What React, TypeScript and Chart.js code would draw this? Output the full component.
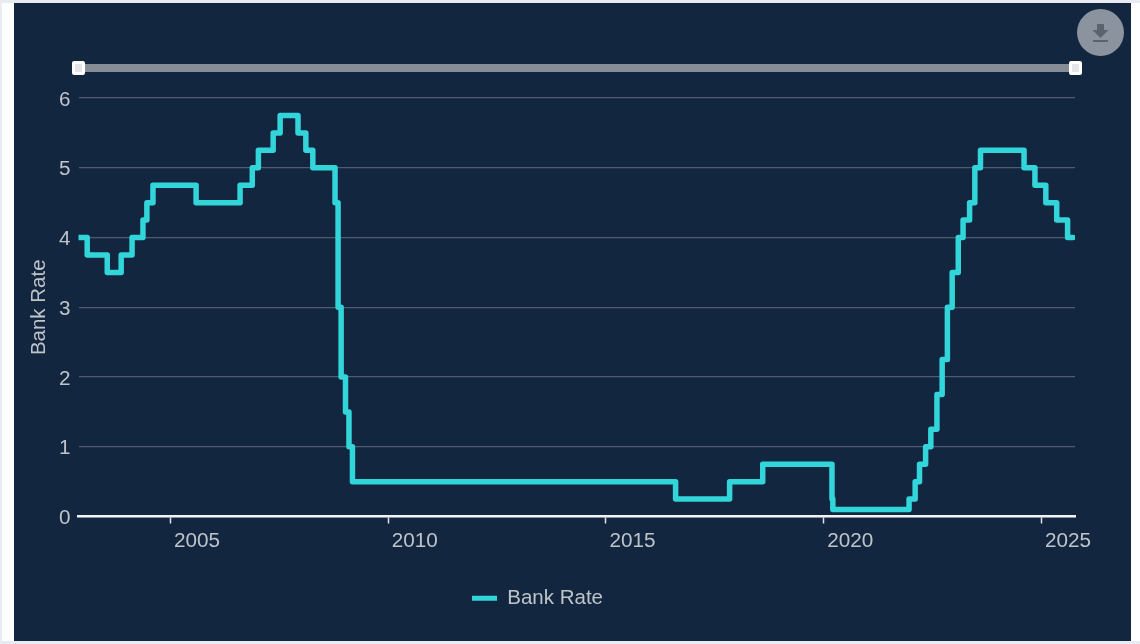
import React, { useEffect, useRef } from "react";
import { Chart, registerables } from "chart.js";

Chart.register(...registerables);

const changeYears = [2002.89, 2003.09, 2003.55, 2003.87, 2004.12, 2004.37, 2004.46, 2004.6, 2005.59, 2006.6, 2006.88, 2007.02, 2007.36, 2007.52, 2007.93, 2008.11, 2008.27, 2008.78, 2008.85, 2008.92, 2009.02, 2009.1, 2009.18, 2016.6, 2017.84, 2018.6, 2020.19, 2020.21, 2021.96, 2022.1, 2022.2, 2022.34, 2022.46, 2022.6, 2022.72, 2022.84, 2022.95, 2023.09, 2023.2, 2023.35, 2023.47, 2023.6, 2024.6, 2024.85, 2025.1, 2025.35, 2025.6, 2025.73];
const bankRate = [4, 3.75, 3.5, 3.75, 4, 4.25, 4.5, 4.75, 4.5, 4.75, 5, 5.25, 5.5, 5.75, 5.5, 5.25, 5, 4.5, 3, 2, 1.5, 1, 0.5, 0.25, 0.5, 0.75, 0.25, 0.1, 0.25, 0.5, 0.75, 1, 1.25, 1.75, 2.25, 3, 3.5, 4, 4.25, 4.5, 5, 5.25, 5, 4.75, 4.5, 4.25, 4, 4];
const seriesName = "Bank Rate";
const axisMinYear = 2002.89;
const axisMaxYear = 2025.77;

const FONT = '"Liberation Sans", Arial, sans-serif';
const TEXT = "#bfc4ca";
const TEAL = "#32d5da";

export default function App() {
  const ref = useRef<HTMLCanvasElement>(null);
  useEffect(() => {
    const chart = new Chart(ref.current!, {
      type: "line",
      data: {
        datasets: [
          {
            label: seriesName,
            data: changeYears.map((x, i) => ({ x, y: bankRate[i] })),
            stepped: true,
            borderColor: TEAL,
            backgroundColor: TEAL,
            borderWidth: 5.5,
            borderJoinStyle: "round",
            borderCapStyle: "round",
            pointRadius: 0,
          },
        ],
      },
      options: {
        animation: false,
        responsive: false,
        layout: { padding: { left: 0, right: 65, top: 98, bottom: 25.5 } },
        font: { family: FONT },
        scales: {
          x: {
            type: "linear",
            min: axisMinYear,
            max: axisMaxYear,
            afterFit: (s: any) => { s.height = 61.5; },
            border: { display: true, color: "#f2f3f5", width: 2.5 },
            grid: { drawOnChartArea: false, drawTicks: true, tickLength: 7, tickColor: "#dfe2e6", tickWidth: 1.5 },
            ticks: {
              stepSize: 5,
              includeBounds: false,
              align: "start",
              labelOffset: 3.5,
              maxRotation: 0,
              autoSkip: false,
              padding: 5,
              color: TEXT,
              font: { family: FONT, size: 20.7 },
              callback: (v: any) => String(v),
            },
          },
          y: {
            min: 0,
            max: 6,
            afterFit: (s: any) => { s.width = 78.5; },
            border: { display: false },
            grid: { color: "rgba(255,255,255,0.25)", lineWidth: 1.2, drawTicks: false },
            ticks: { stepSize: 1, padding: 8, labelOffset: 2, color: TEXT, font: { family: FONT, size: 20.7 } },
            title: {
              display: true,
              text: seriesName,
              color: TEXT,
              font: { family: FONT, size: 20.5 },
              padding: { top: 27.5, bottom: 0 },
            },
          },
        },
        plugins: {
          tooltip: { enabled: false },
          legend: {
            position: "bottom",
            labels: {
              color: TEXT,
              font: { family: FONT, size: 20.5 },
              boxWidth: 25,
              boxHeight: 5,
              padding: 10,
              generateLabels: (c: any) => {
                const items = Chart.defaults.plugins.legend.labels.generateLabels(c);
                return items.map((it: any) => ({ ...it, lineWidth: 0, lineCap: "butt", lineJoin: "miter" }));
              },
            },
          },
        },
      } as any,
    });
    return () => chart.destroy();
  }, []);

  return (
    <div style={{ position: "fixed", left: 0, top: 0, width: 1140, height: 644, background: "#e9ebf3", overflow: "hidden" }}>
      <div style={{ position: "absolute", left: 2, top: 3, width: 1138, height: 638, background: "#ffffff" }} />
      <div style={{ position: "absolute", left: 13.5, top: 3, width: 1117.5, height: 638, background: "#12263f" }} />
      <div style={{ position: "absolute", left: 79, top: 64, width: 996, height: 8, background: "#868d96" }} />
      {[72, 1069].map((left) => (
        <div key={left} style={{ position: "absolute", left, top: 61, width: 13, height: 14, boxSizing: "border-box", background: "#e4e6e9", border: "3px solid #ffffff", borderRadius: 2 }} />
      ))}
      <canvas ref={ref} width={1140} height={644} style={{ position: "absolute", left: 0, top: 0, display: "block" }} />
      <div style={{ position: "absolute", left: 1076.5, top: 9, width: 47, height: 47, borderRadius: "50%", background: "#8a939e" }}>
        <svg width="47" height="47" viewBox="0 0 47 47" style={{ display: "block" }}>
          <path d="M20 15h7v6h4.5l-8 8-8-8H20z" fill="#59646f" />
          <rect x="16" y="31" width="15" height="2" fill="#59646f" />
        </svg>
      </div>
    </div>
  );
}
